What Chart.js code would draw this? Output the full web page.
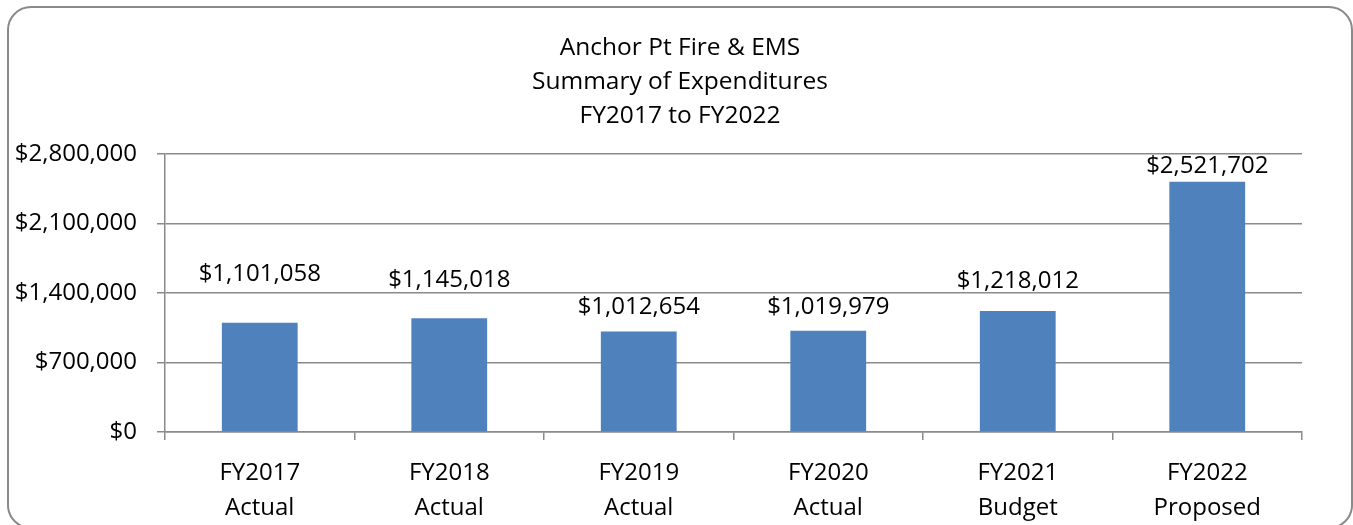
<!DOCTYPE html>
<html>
<head>
<meta charset="utf-8">
<script src="https://cdn.jsdelivr.net/npm/chart.js@4"></script>
<style>
  html, body { margin: 0; padding: 0; background: #fff; }
  body { width: 1353px; height: 525px; position: relative; overflow: hidden; }
  #frame {
    position: absolute; left: 7px; top: 6px;
    width: 1342px; height: 519px;
    border: 2px solid #8a8a8a; border-radius: 24px;
  }
  #wrap { position: absolute; left: 0; top: 0; width: 1353px; height: 525px; }
</style>
</head>
<body>
<div id="frame"></div>
<div id="wrap"><canvas id="expChart"></canvas></div>
<script>
const years = ['FY2017', 'FY2018', 'FY2019', 'FY2020', 'FY2021', 'FY2022'];
const stages = ['Actual', 'Actual', 'Actual', 'Actual', 'Budget', 'Proposed'];
const expenditures = [1101058, 1145018, 1012654, 1019979, 1218012, 2521702];
const yTicks = [0, 700000, 1400000, 2100000, 2800000];
const titleLines = ['Anchor Pt Fire & EMS', 'Summary of Expenditures', 'FY2017 to FY2022'];

// labels in the original were dragged by hand, so lift each one by its own amount (px)
const labelLift = [49, 38, 24, 24, 30, 15];

const FONT = '"Open Sans", "Noto Sans", sans-serif';
const GRID = '#8a8a8a';

const money = v => '$' + Math.round(v).toLocaleString('en-US');

const titleAndLabels = {
  id: 'titleAndLabels',
  afterDatasetsDraw(chart) {
    const ctx = chart.ctx;
    ctx.save();
    ctx.fillStyle = '#000';
    ctx.textAlign = 'center';
    ctx.textBaseline = 'middle';
    ctx.font = '24.5px ' + FONT;
    titleLines.forEach((t, i) => ctx.fillText(t, 680, 48 + i * 34));
    ctx.font = '24px ' + FONT;
    chart.getDatasetMeta(0).data.forEach((bar, i) => {
      ctx.fillText(money(expenditures[i]), bar.x, bar.y - labelLift[i]);
    });
    ctx.restore();
  }
};

new Chart(document.getElementById('expChart'), {
  type: 'bar',
  data: {
    labels: years.map((y, i) => [y, stages[i]]),
    datasets: [{
      data: expenditures,
      backgroundColor: '#4f81bd',
      categoryPercentage: 1,
      barPercentage: 0.4
    }]
  },
  options: {
    responsive: true,
    maintainAspectRatio: false,
    animation: false,
    layout: { padding: { left: 0, right: 51, top: 154, bottom: 0 } },
    scales: {
      x: {
        grid: { offset: true, drawOnChartArea: false, color: GRID, lineWidth: 1.5, tickLength: 8 },
        border: { color: GRID, width: 1.5 },
        ticks: {
          color: '#000', padding: 16,
          font: { family: FONT, size: 24, lineHeight: 1.46 }
        },
        afterFit: s => { s.height = 93; }
      },
      y: {
        min: 0,
        max: 2800000,
        afterBuildTicks: s => { s.ticks = yTicks.map(v => ({ value: v })); },
        grid: { color: GRID, lineWidth: 1.5, tickLength: 8 },
        border: { color: GRID, width: 1.5 },
        ticks: {
          color: '#000', padding: 20,
          font: { family: FONT, size: 24 },
          callback: v => money(v)
        },
        afterFit: s => { s.width = 165; }
      }
    },
    plugins: {
      legend: { display: false },
      title: { display: false },
      tooltip: { enabled: false }
    }
  },
  plugins: [titleAndLabels]
});
</script>
</body>
</html>
